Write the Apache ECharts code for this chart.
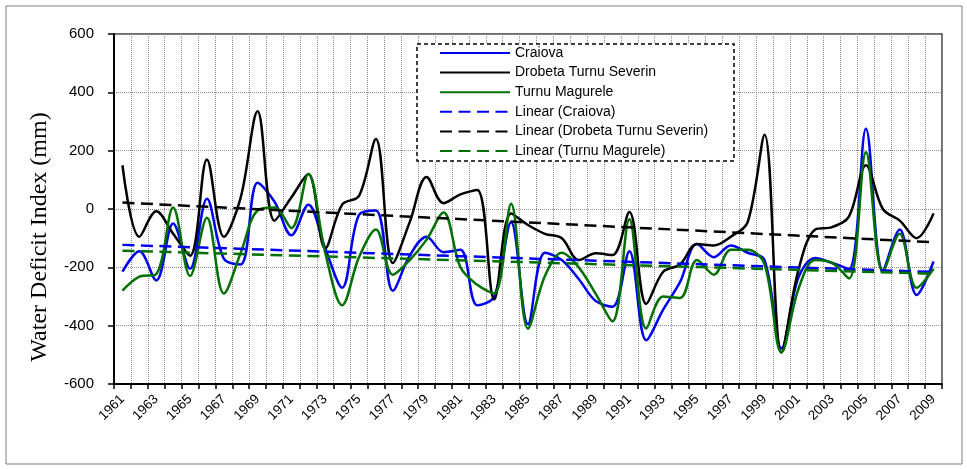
<!DOCTYPE html>
<html><head><meta charset="utf-8">
<script src="https://cdn.jsdelivr.net/npm/echarts@6/dist/echarts.min.js"></script>
<style>html,body{margin:0;padding:0;background:#fff}#c{width:967px;height:469px}</style>
</head><body><div id="c"></div>
<script>
const years = ['1961','1962','1963','1964','1965','1966','1967','1968','1969','1970',
  '1971','1972','1973','1974','1975','1976','1977','1978','1979','1980',
  '1981','1982','1983','1984','1985','1986','1987','1988','1989','1990',
  '1991','1992','1993','1994','1995','1996','1997','1998','1999','2000',
  '2001','2002','2003','2004','2005','2006','2007','2008','2009'];

const craiova = [-215,-145,-245,-50,-205,35,-170,-190,90,25,
  -90,15,-135,-270,-20,-5,-280,-160,-95,-148,
  -140,-330,-300,-45,-395,-150,-175,-240,-315,-335,
  -145,-450,-345,-250,-120,-165,-125,-150,-175,-478,
  -235,-168,-185,-205,275,-210,-70,-295,-180];

const drobeta = [150,-95,-8,-85,-160,170,-95,40,335,-40,
  40,120,-135,15,45,240,-185,-45,110,20,
  50,65,-310,-15,-55,-85,-100,-175,-152,-158,
  -10,-325,-215,-190,-120,-125,-95,-45,255,-492,
  -210,-70,-62,-25,150,0,-40,-100,-15];

const turnu = [-280,-232,-223,5,-230,-30,-290,-150,-5,5,
  -65,120,-150,-330,-165,-70,-225,-175,-105,-12,
  -200,-260,-290,18,-410,-230,-150,-200,-290,-385,
  -35,-410,-300,-305,-175,-225,-140,-140,-190,-492,
  -275,-175,-185,-238,195,-215,-85,-270,-205];

// linear trend end points (first year, last year)
const trendCraiova = [-123, -216];
const trendDrobeta = [22, -114];
const trendTurnu = [-143, -222];

const yTicks = [-600, -400, -200, 0, 200, 400, 600];

const BLUE = '#0000EE', BLACK = '#000000', GREEN = '#007000';
const FONT = 'Liberation Sans';

function trend(pair) {
  return [[years[0], pair[0]], [years[years.length - 1], pair[1]]];
}
function solid(name, data, color) {
  return { name, type: 'line', data, smooth: 0.35, symbol: 'none', showSymbol: false,
    itemStyle: { color }, lineStyle: { color, width: 2.5 } };
}
function dashed(name, data, color) {
  return { name, type: 'line', data, smooth: false, symbol: 'none', showSymbol: false,
    itemStyle: { color }, lineStyle: { color, width: 2.5, type: [12, 6.5] } };
}

const chart = echarts.init(document.getElementById('c'), null, { renderer: 'canvas' });
chart.setOption({
  animation: false,
  backgroundColor: '#fff',
  grid: { left: 114, right: 25, top: 34, bottom: 85, show: true, borderColor: '#404040', borderWidth: 1.5, backgroundColor: 'transparent' },
  xAxis: {
    type: 'category', data: years, boundaryGap: true,
    axisLine: { show: true, onZero: false, lineStyle: { color: '#000', width: 2 } },
    axisTick: { show: true, interval: 0, length: 5, inside: false, lineStyle: { color: '#000', width: 1.5 } },
    axisLabel: { interval: 1, rotate: 45, fontSize: 13.5, color: '#000', fontFamily: FONT, margin: 13 },
    splitLine: { show: true, interval: 0, lineStyle: { type: 'dotted', color: '#8c8c8c', width: 1 } }
  },
  yAxis: {
    type: 'value', min: yTicks[0], max: yTicks[yTicks.length - 1], interval: 200,
    axisLine: { show: true, lineStyle: { color: '#000', width: 2 } },
    axisTick: { show: true, length: 6, lineStyle: { color: '#000', width: 1.5 } },
    axisLabel: { fontSize: 15, color: '#000', fontFamily: FONT, margin: 20 },
    splitLine: { show: true, lineStyle: { type: 'dotted', color: '#8c8c8c', width: 1 } }
  },
  legend: {
    orient: 'vertical', left: 439, top: 46, itemWidth: 70, itemHeight: 14, itemGap: 5.6,
    padding: 0,
    itemStyle: { opacity: 0, borderWidth: 0 },
    textStyle: { fontSize: 14, fontFamily: FONT, color: '#000' },
    data: ['Craiova', 'Drobeta Turnu Severin', 'Turnu Magurele',
      'Linear (Craiova)', 'Linear (Drobeta Turnu Severin)', 'Linear (Turnu Magurele)'],
    z: 10
  },
  graphic: [
    { type: 'rect', z: 100, silent: true, shape: { x: 6, y: 6, width: 956, height: 458 },
      style: { fill: null, stroke: '#7f7f7f', lineWidth: 1 } },
    { type: 'rect', z: 3, silent: true, shape: { x: 417, y: 44, width: 317, height: 117 },
      style: { fill: '#fff', stroke: '#000', lineWidth: 1.5, lineDash: [4, 3] } },
    { type: 'text', z: 100, silent: true, x: 40, y: 237, rotation: Math.PI / 2,
      style: { text: 'Water Deficit Index (mm)', x: 0, y: 0, textAlign: 'center', textVerticalAlign: 'middle',
        font: '24px "Liberation Serif"', fill: '#000' } }
  ],
  series: [
    solid('Craiova', craiova, BLUE),
    solid('Drobeta Turnu Severin', drobeta, BLACK),
    solid('Turnu Magurele', turnu, GREEN),
    dashed('Linear (Craiova)', trend(trendCraiova), BLUE),
    dashed('Linear (Drobeta Turnu Severin)', trend(trendDrobeta), BLACK),
    dashed('Linear (Turnu Magurele)', trend(trendTurnu), GREEN)
  ]
});
</script>
</body></html>
